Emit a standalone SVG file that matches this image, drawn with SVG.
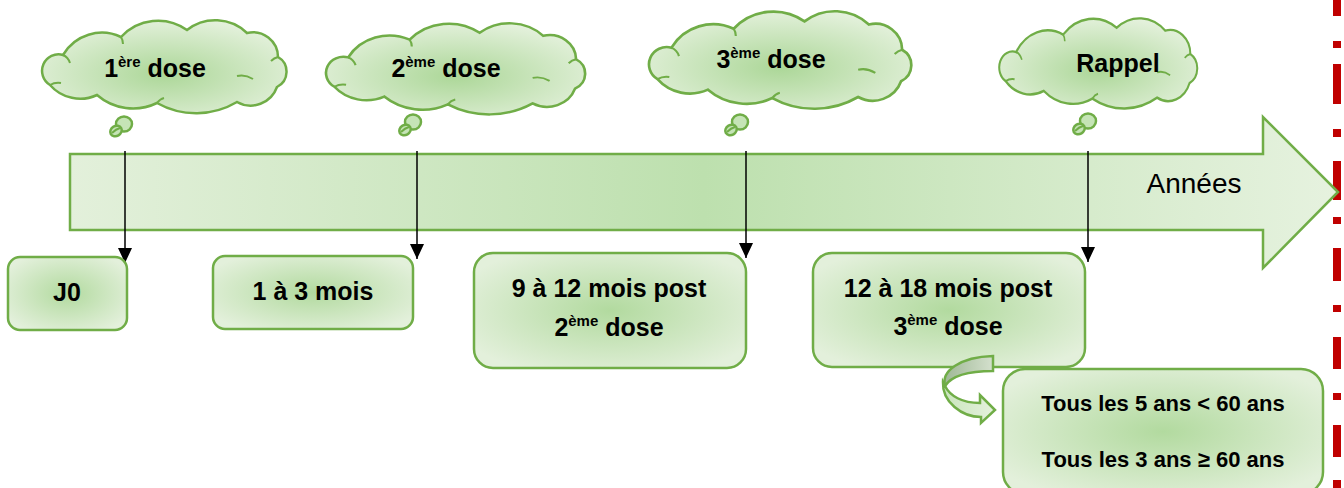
<svg xmlns="http://www.w3.org/2000/svg" width="1344" height="488" viewBox="0 0 1344 488">
<defs>
<linearGradient id="gArrow" x1="0" y1="0" x2="1" y2="0">
<stop offset="0" stop-color="#e3f0db"/>
<stop offset="0.5" stop-color="#bde0ae"/>
<stop offset="1" stop-color="#e6f2df"/>
</linearGradient>
<radialGradient id="gBox" cx="0.5" cy="0.5" r="0.6">
<stop offset="0" stop-color="#b2da9f"/>
<stop offset="1" stop-color="#e3f0db"/>
</radialGradient>
<radialGradient id="gCloud" cx="0.5" cy="0.58" r="0.6">
<stop offset="0" stop-color="#acd798"/>
<stop offset="1" stop-color="#e4f1dc"/>
</radialGradient>
<linearGradient id="gGray" x1="0" y1="0" x2="1" y2="0">
<stop offset="0" stop-color="#9fb896"/>
<stop offset="1" stop-color="#d4e0cd"/>
</linearGradient>
<linearGradient id="gCurve" x1="0" y1="0" x2="1" y2="0">
<stop offset="0" stop-color="#c9e5bc"/>
<stop offset="1" stop-color="#e5f1de"/>
</linearGradient>
<marker id="ah" markerUnits="userSpaceOnUse" markerWidth="16" markerHeight="16" viewBox="0 0 16 16" refX="15" refY="8" orient="auto">
<path d="M0,1 L15,8 L0,15 Z" fill="#000"/>
</marker>
<path id="cloud" d="M7,63 A16.5,16.5 0 0 1 20,33 A45,45 0 0 1 78,15 A50,50 0 0 1 144,8 A46,46 0 0 1 204,11 A25,25 0 0 1 235,35 A17,17 0 0 1 234,65 A28,28 0 0 1 194,80 A80,80 0 0 1 114,81 A55,55 0 0 1 54,73 A40,40 0 0 1 7,63 Z"/>
<path id="cloudIn" d="M20,33 Q25,35 27,41 M78,15 Q80,18 80,22 M235,35 Q231,36 228,39 M194,54 Q202,52 210,57 M114,81 Q117,77 121,76 M7,63 Q12,60 18,61"/>
</defs>
<style>
.sh{stroke:#70AD47;stroke-width:2.5;}
.cl{fill:url(#gCloud);stroke:#70AD47;stroke-width:2.5;vector-effect:non-scaling-stroke;}
.ci{fill:none;stroke:#70AD47;stroke-width:2;vector-effect:non-scaling-stroke;}
.tl{fill:#c5e4b6;stroke:#70AD47;stroke-width:2.5;}
.box{fill:url(#gBox);stroke:#70AD47;stroke-width:2.5;}
.t{font-family:"Liberation Sans",Arial,sans-serif;font-weight:bold;font-size:25px;fill:#000;text-anchor:middle;}
.sup{font-size:15px;}
.t2{font-size:22px;}
.con{stroke:#000;stroke-width:1.5;fill:none;}
.red{fill:#C00000;}
</style>

<g id="red-line">
<rect class="red" x="1333" y="0" width="8" height="16"/>
<rect class="red" x="1333" y="41" width="8" height="7"/>
<rect class="red" x="1333" y="64" width="8" height="40"/>
<rect class="red" x="1333" y="129" width="8" height="8"/>
<rect class="red" x="1333" y="161" width="8" height="39"/>
<rect class="red" x="1333" y="217" width="8" height="7"/>
<rect class="red" x="1333" y="248" width="8" height="33"/>
<rect class="red" x="1333" y="305" width="8" height="7"/>
<rect class="red" x="1333" y="337" width="8" height="32"/>
<rect class="red" x="1333" y="393" width="8" height="7"/>
<rect class="red" x="1333" y="425" width="8" height="32"/>
<rect class="red" x="1333" y="480" width="8" height="8"/>
</g>

<g id="timeline">
<path class="sh" fill="url(#gArrow)" d="M70,154 L1263,154 L1263,117 L1338,192 L1263,268 L1263,230 L70,230 Z"/>
<text x="1194" y="193" style="font-family:'Liberation Sans',Arial,sans-serif;font-size:28px;fill:#000;text-anchor:middle;">Années</text>
</g>

<g id="cloud1">
<g transform="translate(43,22)"><use href="#cloud" class="cl"/><use href="#cloudIn" class="ci"/></g>
<ellipse class="tl" cx="124" cy="124" rx="8" ry="7.5"/>
<ellipse class="tl" cx="116" cy="131" rx="6" ry="5" transform="rotate(-30 116 131)"/>
<path class="ci" d="M112,133 Q116,129 120,128"/>
<text class="t" x="155" y="77">1<tspan class="sup" dy="-10">ère</tspan><tspan dy="10"> dose</tspan></text>
</g>

<g id="cloud2">
<g transform="translate(327,25) scale(1.06,0.98)"><use href="#cloud" class="cl"/><use href="#cloudIn" class="ci"/></g>
<ellipse class="tl" cx="413" cy="122" rx="8" ry="7.5"/>
<ellipse class="tl" cx="405" cy="130" rx="6" ry="5" transform="rotate(-30 405 130)"/>
<path class="ci" d="M401,132 Q405,128 409,127"/>
<text class="t" x="446" y="77">2<tspan class="sup" dy="-10">ème</tspan><tspan dy="10"> dose</tspan></text>
</g>

<g id="cloud3">
<g transform="translate(650,13) scale(1.073,1.05)"><use href="#cloud" class="cl"/><use href="#cloudIn" class="ci"/></g>
<ellipse class="tl" cx="740" cy="122" rx="8" ry="7.5"/>
<ellipse class="tl" cx="731" cy="130" rx="6" ry="5" transform="rotate(-30 731 130)"/>
<path class="ci" d="M727,132 Q731,128 735,127"/>
<text class="t" x="771" y="68">3<tspan class="sup" dy="-10">ème</tspan><tspan dy="10"> dose</tspan></text>
</g>

<g id="cloud4">
<g transform="translate(1000,20) scale(0.81,0.97)"><use href="#cloud" class="cl"/><use href="#cloudIn" class="ci"/></g>
<ellipse class="tl" cx="1088" cy="121" rx="8" ry="7.5"/>
<ellipse class="tl" cx="1079" cy="129" rx="6" ry="5" transform="rotate(-30 1079 129)"/>
<path class="ci" d="M1075,131 Q1079,127 1083,126"/>
<text class="t" x="1118" y="72">Rappel</text>
</g>

<g id="connectors">
<line class="con" x1="125" y1="151" x2="125" y2="263" marker-end="url(#ah)"/>
<line class="con" x1="417" y1="151" x2="417" y2="259" marker-end="url(#ah)"/>
<line class="con" x1="746" y1="151" x2="746" y2="258" marker-end="url(#ah)"/>
<line class="con" x1="1088" y1="151" x2="1088" y2="262" marker-end="url(#ah)"/>
</g>

<g id="box-j0">
<rect class="box" x="8" y="257" width="119" height="73" rx="12"/>
<text class="t" x="67" y="301">J0</text>
</g>

<g id="box-1a3">
<rect class="box" x="213" y="256" width="200" height="73" rx="12"/>
<text class="t" x="313" y="300">1 à 3 mois</text>
</g>

<g id="box-9a12">
<rect class="box" x="474" y="253" width="272" height="115" rx="19"/>
<text class="t" x="609" y="297">9 à 12 mois post</text>
<text class="t" x="609" y="336">2<tspan class="sup" dy="-10">ème</tspan><tspan dy="10"> dose</tspan></text>
</g>

<g id="box-12a18">
<rect class="box" x="813" y="253" width="272" height="114" rx="19"/>
<text class="t" x="948" y="297">12 à 18 mois post</text>
<text class="t" x="948" y="335">3<tspan class="sup" dy="-10">ème</tspan><tspan dy="10"> dose</tspan></text>
</g>

<g id="curved-arrow">
<path class="sh" fill="url(#gGray)" d="M993,356 L993,371 C972,371 952,375 945,386 C941,371 960,357 993,356 Z"/>
<path class="sh" fill="url(#gCurve)" d="M943,382 C942,402 962,417 981,417 L981,423 L995,410 L980,395 L980,403 C962,403 950,396 945,386 Z"/>
</g>

<g id="box-tous">
<rect class="box" x="1003" y="369" width="320" height="125" rx="22"/>
<text class="t t2" x="1163" y="411">Tous les 5 ans &lt; 60 ans</text>
<text class="t t2" x="1163" y="467">Tous les 3 ans ≥ 60 ans</text>
</g>
</svg>
